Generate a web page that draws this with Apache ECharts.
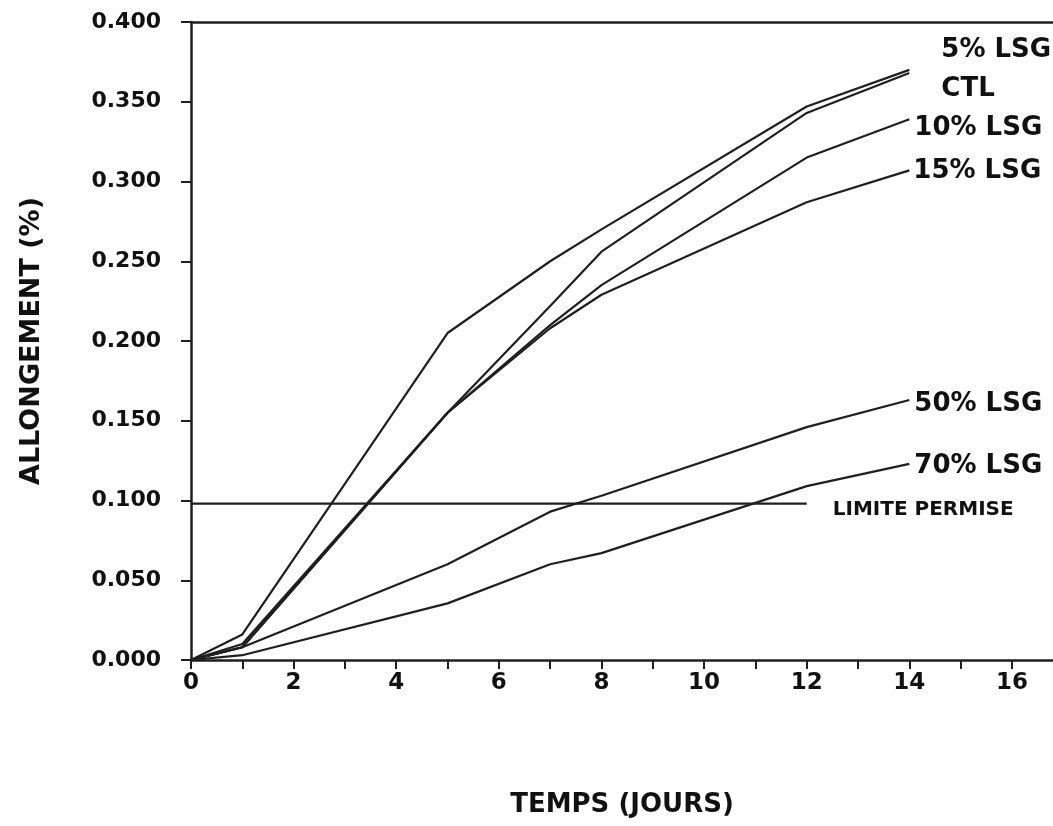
<!DOCTYPE html>
<html>
<head>
<meta charset="utf-8">
<title>Allongement en fonction du temps</title>
<script src="https://cdn.jsdelivr.net/npm/echarts@6/dist/echarts.min.js"></script>
<style>
  html, body { margin: 0; padding: 0; background: #fff; }
  #chart { width: 1053px; height: 826px; }
</style>
</head>
<body>
<div id="chart"></div>
<script>
// Days of measurement
const days = [0, 1, 5, 7, 8, 12, 14];

// Elongation (%) for each mix
const lsg5  = [0, 0.016, 0.205, 0.250, 0.270, 0.347, 0.370];
const ctl   = [0, 0.010, 0.155, 0.222, 0.256, 0.343, 0.368];
const lsg10 = [0, 0.008, 0.155, 0.210, 0.235, 0.315, 0.339];
const lsg15 = [0, 0.008, 0.155, 0.208, 0.229, 0.287, 0.307];
const lsg50 = [0, 0.008, 0.060, 0.093, 0.103, 0.146, 0.163];
const lsg70 = [0, 0.003, 0.0355, 0.060, 0.067, 0.109, 0.123];

// Permitted limit
const limitDays = [0, 12];
const limitValue = 0.098;

// Axis ticks and labels
const xTicks = [0, 1, 2, 3, 4, 5, 6, 7, 8, 9, 10, 11, 12, 13, 14, 15, 16];
const xLabels = [0, 2, 4, 6, 8, 10, 12, 14, 16];

const FONT = 'DejaVu Sans';
const INK = '#1f1f1f';
const TEXT = '#111111';

function pairs(xs, ys) {
  return xs.map((x, i) => [x, ys[i]]);
}

function curve(name, values, offset) {
  return {
    name: name,
    type: 'line',
    data: pairs(days, values),
    showSymbol: false,
    symbol: 'none',
    lineStyle: { color: INK, width: 2.2 },
    endLabel: {
      show: true,
      formatter: name,
      color: TEXT,
      fontFamily: FONT,
      fontWeight: 'bold',
      fontSize: 26,
      distance: 0,
      offset: offset
    },
    z: 3
  };
}

const chart = echarts.init(document.getElementById('chart'), null, { renderer: 'canvas' });

chart.setOption({
  animation: false,
  backgroundColor: '#ffffff',
  grid: { left: 191, right: 0, top: 22, bottom: 166, containLabel: false },
  xAxis: [
    {
      type: 'value',
      position: 'bottom',
      min: 0,
      max: 16.8,
      interval: 1,
      name: 'TEMPS (JOURS)',
      nameLocation: 'middle',
      nameGap: 132,
      nameTextStyle: { fontFamily: FONT, fontWeight: 'bold', fontSize: 26, color: TEXT },
      axisLine: { show: true, onZero: false, lineStyle: { color: INK, width: 2.5 } },
      axisTick: { show: true, inside: false, length: 9, customValues: xTicks, lineStyle: { color: INK, width: 2 } },
      axisLabel: {
        customValues: xLabels,
        margin: 12,
        fontFamily: FONT,
        fontWeight: 'bold',
        fontSize: 23,
        color: TEXT,
        formatter: v => String(v)
      },
      splitLine: { show: false }
    },
    {
      type: 'value',
      position: 'top',
      min: 0,
      max: 16.8,
      axisLine: { show: true, onZero: false, lineStyle: { color: INK, width: 2.5 } },
      axisTick: { show: false },
      axisLabel: { show: false },
      splitLine: { show: false }
    }
  ],
  yAxis: {
    type: 'value',
    min: 0,
    max: 0.4,
    interval: 0.05,
    name: 'ALLONGEMENT (%)',
    nameLocation: 'middle',
    nameGap: 146,
    nameRotate: 90,
    nameTextStyle: { fontFamily: FONT, fontWeight: 'bold', fontSize: 27, color: TEXT },
    axisLine: { show: true, onZero: false, lineStyle: { color: INK, width: 2.5 } },
    axisTick: { show: true, inside: false, length: 10, lineStyle: { color: INK, width: 2 } },
    axisLabel: {
      margin: 30,
      fontFamily: FONT,
      fontWeight: 'bold',
      fontSize: 22,
      color: TEXT,
      formatter: v => v.toFixed(3)
    },
    splitLine: { show: false }
  },
  series: [
    curve('5% LSG', lsg5, [32, -20]),
    curve('CTL', ctl, [32, 16]),
    curve('10% LSG', lsg10, [5, 9]),
    curve('15% LSG', lsg15, [4, 1]),
    curve('50% LSG', lsg50, [5, 4]),
    curve('70% LSG', lsg70, [5, 2]),
    {
      name: 'LIMITE PERMISE',
      type: 'line',
      data: limitDays.map(d => [d, limitValue]),
      showSymbol: false,
      symbol: 'none',
      lineStyle: { color: INK, width: 2.2 },
      endLabel: {
        show: true,
        formatter: 'LIMITE PERMISE',
        color: TEXT,
        fontFamily: FONT,
        fontWeight: 'bold',
        fontSize: 20,
        distance: 0,
        offset: [26, 6]
      },
      z: 3
    }
  ]
});
</script>
</body>
</html>
